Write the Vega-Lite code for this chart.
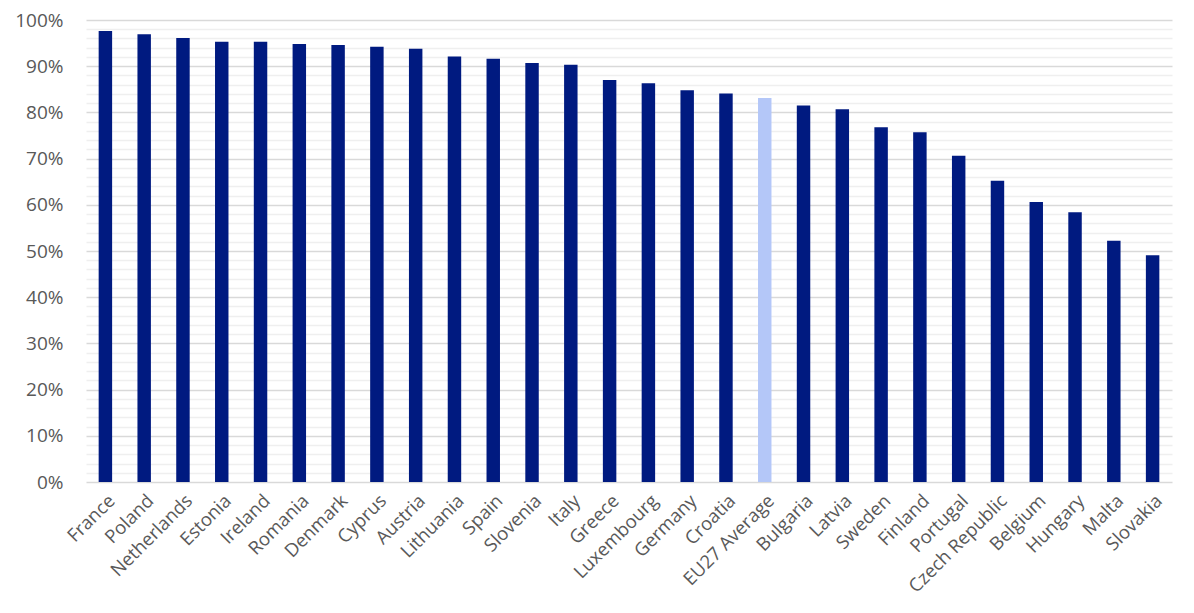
{
  "$schema": "https://vega.github.io/schema/vega-lite/v6.json",
  "autosize": {"type": "none"},
  "width": 1086,
  "height": 462,
  "padding": {"left": 86, "top": 20, "right": 22, "bottom": 131},
  "background": "white",
  "config": {"view": {"stroke": null}, "font": "Open Sans"},
  "data": {"values": [
    {"country": "France", "value": 97.6, "group": "Country"},
    {"country": "Poland", "value": 96.9, "group": "Country"},
    {"country": "Netherlands", "value": 96.1, "group": "Country"},
    {"country": "Estonia", "value": 95.3, "group": "Country"},
    {"country": "Ireland", "value": 95.3, "group": "Country"},
    {"country": "Romania", "value": 94.8, "group": "Country"},
    {"country": "Denmark", "value": 94.6, "group": "Country"},
    {"country": "Cyprus", "value": 94.2, "group": "Country"},
    {"country": "Austria", "value": 93.8, "group": "Country"},
    {"country": "Lithuania", "value": 92.1, "group": "Country"},
    {"country": "Spain", "value": 91.6, "group": "Country"},
    {"country": "Slovenia", "value": 90.7, "group": "Country"},
    {"country": "Italy", "value": 90.3, "group": "Country"},
    {"country": "Greece", "value": 87.0, "group": "Country"},
    {"country": "Luxembourg", "value": 86.3, "group": "Country"},
    {"country": "Germany", "value": 84.8, "group": "Country"},
    {"country": "Croatia", "value": 84.1, "group": "Country"},
    {"country": "EU27 Average", "value": 83.1, "group": "EU27"},
    {"country": "Bulgaria", "value": 81.5, "group": "Country"},
    {"country": "Latvia", "value": 80.7, "group": "Country"},
    {"country": "Sweden", "value": 76.8, "group": "Country"},
    {"country": "Finland", "value": 75.7, "group": "Country"},
    {"country": "Portugal", "value": 70.6, "group": "Country"},
    {"country": "Czech Republic", "value": 65.2, "group": "Country"},
    {"country": "Belgium", "value": 60.6, "group": "Country"},
    {"country": "Hungary", "value": 58.4, "group": "Country"},
    {"country": "Malta", "value": 52.2, "group": "Country"},
    {"country": "Slovakia", "value": 49.1, "group": "Country"}
  ]},
  "mark": {"type": "bar"},
  "encoding": {
    "x": {
      "field": "country", "type": "nominal", "sort": null,
      "scale": {"paddingInner": 0.653, "paddingOuter": 0.3265},
      "axis": {
        "title": null, "labelAngle": -45, "labelFontSize": 18.5, "labelColor": "#595959",
        "ticks": false, "domain": false, "labelPadding": 9, "labelOverlap": false
      }
    },
    "y": {
      "field": "value", "type": "quantitative",
      "scale": {"domain": [0, 100], "nice": false},
      "axis": {
        "title": null,
        "values": [0,2,4,6,8,10,12,14,16,18,20,22,24,26,28,30,32,34,36,38,40,42,44,46,48,50,52,54,56,58,60,62,64,66,68,70,72,74,76,78,80,82,84,86,88,90,92,94,96,98,100],
        "labelExpr": "datum.value % 10 === 0 ? datum.value + '%' : ''",
        "labelFontSize": 19, "labelColor": "#595959", "labelPadding": 23,
        "ticks": false, "domain": false,
        "gridWidth": 1.5,
        "gridColor": {"condition": {"test": "datum.value % 10 === 0", "value": "#d9d9d9"}, "value": "#efefef"}
      }
    },
    "color": {
      "field": "group", "type": "nominal",
      "scale": {"domain": ["Country", "EU27"], "range": ["#001a80", "#b4c7f8"]},
      "legend": null
    }
  }
}
